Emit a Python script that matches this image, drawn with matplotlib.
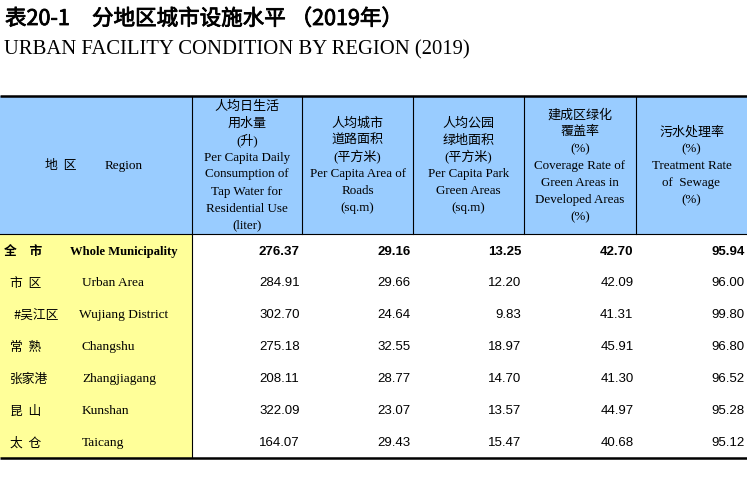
import matplotlib
matplotlib.use("Agg")
import matplotlib.pyplot as plt
from matplotlib.patches import Rectangle
import matplotlib.patheffects as pe

# ---------------- data ----------------
title_cn_a = "表20-1"
title_cn_b = "分地区城市设施水平 （2019年）"
title_en = "URBAN FACILITY CONDITION BY REGION (2019)"

region_header_cn = "地  区"
region_header_en = "Region"

col_headers = [
    ["人均日生活", "用水量", "(升)", "Per Capita Daily", "Consumption of",
     "Tap Water for", "Residential Use", "(liter)"],
    ["人均城市", "道路面积", "(平方米)", "Per Capita Area of", "Roads", "(sq.m)"],
    ["人均公园", "绿地面积", "(平方米)", "Per Capita Park", "Green Areas", "(sq.m)"],
    ["建成区绿化", "覆盖率", "(%)", "Coverage Rate of", "Green Areas in",
     "Developed Areas", "(%)"],
    ["污水处理率", "(%)", "Treatment Rate", "of  Sewage", "(%)"],
]

regions_cn = ["全　市", "市  区", "#吴江区", "常  熟", "张家港", "昆  山", "太  仓"]
regions_en = ["Whole Municipality", "Urban Area", "Wujiang District", "Changshu",
              "Zhangjiagang", "Kunshan", "Taicang"]

water = [276.37, 284.91, 302.70, 275.18, 208.11, 322.09, 164.07]
roads = [29.16, 29.66, 24.64, 32.55, 28.77, 23.07, 29.43]
park = [13.25, 12.20, 9.83, 18.97, 14.70, 13.57, 15.47]
coverage = [42.70, 42.09, 41.31, 45.91, 41.30, 44.97, 40.68]
sewage = [95.94, 96.00, 99.80, 96.80, 96.52, 95.28, 95.12]

# ---------------- layout ----------------
W, H = 747, 491
col_edges = [0, 192, 302, 413, 524, 636, 747]
top_y, head_bot, bot_y = 95.5, 234, 457.5
row_y0, row_step = 251.5, 31.95
head_center, head_step = 166, 17.0

BLUE = "#99CCFF"
YELLOW = "#FFFF99"

CJK = ["Noto Sans CJK SC", "DejaVu Sans"]
SERIF_CJK = ["Liberation Serif", "Noto Sans CJK SC"]
SANS = ["Liberation Sans"]

fig = plt.figure(figsize=(W / 100, H / 100), dpi=100)
ax = fig.add_axes([0, 0, 1, 1])
ax.set_xlim(0, W)
ax.set_ylim(H, 0)
ax.axis("off")

# titles
thick = [pe.withStroke(linewidth=0.6, foreground="black")]
ax.text(5, 19, title_cn_a, family=CJK, fontsize=15.5, va="center", ha="left", path_effects=thick)
ax.text(92, 19, title_cn_b, family=CJK, fontsize=15.5, va="center", ha="left", path_effects=thick)
ax.text(4, 50, title_en, family=["Liberation Serif"], fontsize=14.9, va="center", ha="left")

# backgrounds
ax.add_patch(Rectangle((0, top_y), W, head_bot - top_y, facecolor=BLUE, edgecolor="none", zorder=0))
ax.add_patch(Rectangle((0, head_bot), col_edges[1], bot_y - head_bot, facecolor=YELLOW,
                       edgecolor="none", zorder=0))

# lines
ax.plot([0, W], [top_y, top_y], color="black", lw=1.8, solid_capstyle="butt", zorder=3)
ax.plot([0, W], [bot_y, bot_y], color="black", lw=1.8, solid_capstyle="butt", zorder=3)
ax.plot([0, W], [head_bot, head_bot], color="black", lw=0.8, zorder=3)
for x in col_edges[1:-1]:
    ax.plot([x, x], [top_y, head_bot], color="black", lw=0.8, zorder=2)
ax.plot([col_edges[1], col_edges[1]], [head_bot, bot_y], color="black", lw=0.8, zorder=2)

# header texts
ax.text(61, head_center, region_header_cn, family=CJK, fontsize=9.3, ha="center", va="center")
ax.text(124, head_center, region_header_en, family=["Liberation Serif"], fontsize=9.5,
        ha="center", va="center")
for j, lines in enumerate(col_headers):
    cx = (col_edges[j + 1] + col_edges[j + 2]) / 2
    n = len(lines)
    for k, line in enumerate(lines):
        y = head_center + (k - (n - 1) / 2) * head_step
        ax.text(cx, y, line, family=SERIF_CJK, fontsize=9.4, ha="center", va="center")

# data rows
cn_x = [4, 10, 13, 10, 10, 10, 10]
en_x = [70, 82, 79, 82, 82, 82, 82]
series = [water, roads, park, coverage, sewage]
for i in range(len(regions_cn)):
    y = row_y0 + i * row_step
    bold = "bold" if i == 0 else "normal"
    ax.text(cn_x[i], y, regions_cn[i], family=CJK, fontsize=9.2, weight=bold, ha="left", va="center")
    ax.text(en_x[i], y, regions_en[i], family=["Liberation Serif"],
            fontsize=9.1 if i == 0 else 9.6, weight=bold, ha="left", va="center")
    for j, s in enumerate(series):
        xr = col_edges[j + 2] - 2.5
        ax.text(xr, y, f"{s[i]:.2f}", family=SANS, fontsize=9.5, weight=bold, ha="right", va="center")

fig.savefig("out.png", dpi=100)
